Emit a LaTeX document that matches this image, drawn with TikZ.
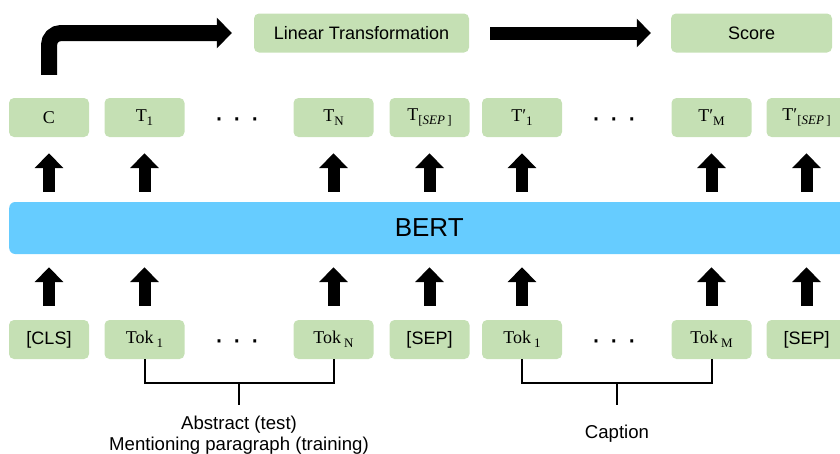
\documentclass[tikz,border=0pt]{standalone}
\usepackage{fontspec}
\setmainfont{Liberation Sans}
\newfontfamily\serif{Liberation Serif}
\usetikzlibrary{arrows.meta}
\definecolor{boxgreen}{HTML}{C5E0B4}
\definecolor{bertblue}{HTML}{66CCFF}
\newcommand\mysub[1]{\raisebox{-4pt}{\fontsize{13}{13}\selectfont #1}}
\begin{document}
\begin{tikzpicture}[x=1pt,y=-1pt,
  box/.style={fill=boxgreen, rounded corners=5pt, minimum width=80pt, minimum height=39pt, inner sep=0pt, font=\fontsize{18}{20}\selectfont},
  sbox/.style={box, font=\serif\fontsize{18}{20}\selectfont},
  uparrow/.style={line width=12pt, -{Triangle[width=28pt,length=15pt]}},
  bigarrow/.style={line width=13pt, -{Triangle[width=28pt,length=14pt]}},
  bracket/.style={line width=2pt},
  lbl/.style={font=\fontsize{18.6}{21}\selectfont, align=center, inner sep=0pt},
  dots/.style={font=\fontsize{30}{30}\selectfont, inner sep=0pt, anchor=base}]
\useasboundingbox (0,0) rectangle (840,453);
\clip (0,0) rectangle (840,453);
% top row
\node[sbox] (c) at (49,117.5) {C};
\node[sbox] (t1) at (144.5,117.5) {T\mysub{1}};
\node[sbox] (tn) at (333.5,117.5) {T\mysub{N}};
\node[sbox] (tsep) at (429.5,117.5) {T\mysub{[\textit{SEP}\,]}};
\node[sbox] (tp1) at (522,117.5) {T′\mysub{1}};
\node[sbox] (tpm) at (711.5,117.5) {T′\mysub{M}};
\node[sbox] (tpsep) at (806.5,117.5) {T′\mysub{[\textit{SEP}\,]}};
% bottom row
\node[box] (cls) at (49,339.5) {[CLS]};
\node[sbox] (tok1) at (144.5,339.5) {Tok\,\mysub{1}};
\node[sbox] (tokn) at (333.5,339.5) {Tok\,\mysub{N}};
\node[box] (sep1) at (429.5,339.5) {[SEP]};
\node[sbox] (tokp1) at (522,339.5) {Tok\,\mysub{1}};
\node[sbox] (tokm) at (711.5,339.5) {Tok\,\mysub{M}};
\node[box] (sep2) at (806.5,339.5) {[SEP]};
% dots
\node[dots] (d1) at (237,127.5) {·\hspace{8pt}·\hspace{8pt}·};
\node[dots] (d2) at (614,127.5) {·\hspace{8pt}·\hspace{8pt}·};
\node[dots] (d3) at (237,349.5) {·\hspace{8pt}·\hspace{8pt}·};
\node[dots] (d4) at (614,349.5) {·\hspace{8pt}·\hspace{8pt}·};
% BERT
\node[fill=bertblue, rounded corners=6pt, minimum width=840pt, minimum height=52pt, inner sep=0pt, anchor=west, font=\fontsize{26}{28}\selectfont] (bert) at (9,228) {\raisebox{-2pt}{BERT}};
% top boxes
\node[box, minimum width=215pt] (lt) at (361.5,33) {Linear Transformation};
\node[box, minimum width=161pt] (sc) at (751.5,33) {Score};
% arrows
\draw[line width=16pt, -{Triangle[width=30pt,length=15pt]}, rounded corners=12pt, shorten <=23pt, shorten >=22pt] (c.north) |- (lt.west);
\draw[bigarrow, shorten <=21pt, shorten >=20pt] (lt.east) -- (sc.west);
\foreach \n in {c,t1,tn,tsep,tp1,tpm,tpsep}
  \draw[uparrow, shorten <=10pt, shorten >=16pt] (\n.south |- bert.north) -- (\n.south);
\foreach \n in {cls,tok1,tokn,sep1,tokp1,tokm,sep2}
  \draw[uparrow, shorten <=14pt, shorten >=13pt] (\n.north) -- (\n.north |- bert.south);
% brackets
\path (tok1.south) -- (tokn.south) coordinate[midway] (m1);
\path (tokp1.south) -- (tokm.south) coordinate[midway] (m2);
\draw[bracket] (tok1.south) -- ++(0,24) -| (tokn.south);
\draw[bracket] ([yshift=-24pt]m1) -- ([yshift=-46pt]m1);
\draw[bracket] (tokp1.south) -- ++(0,24) -| (tokm.south);
\draw[bracket] ([yshift=-24pt]m2) -- ([yshift=-46pt]m2);
% labels
\node[lbl] (abs) at (239,435.5) {Abstract (test)\\Mentioning paragraph (training)};
\node[lbl] (cap) at (617,434) {Caption};
\end{tikzpicture}
\end{document}
